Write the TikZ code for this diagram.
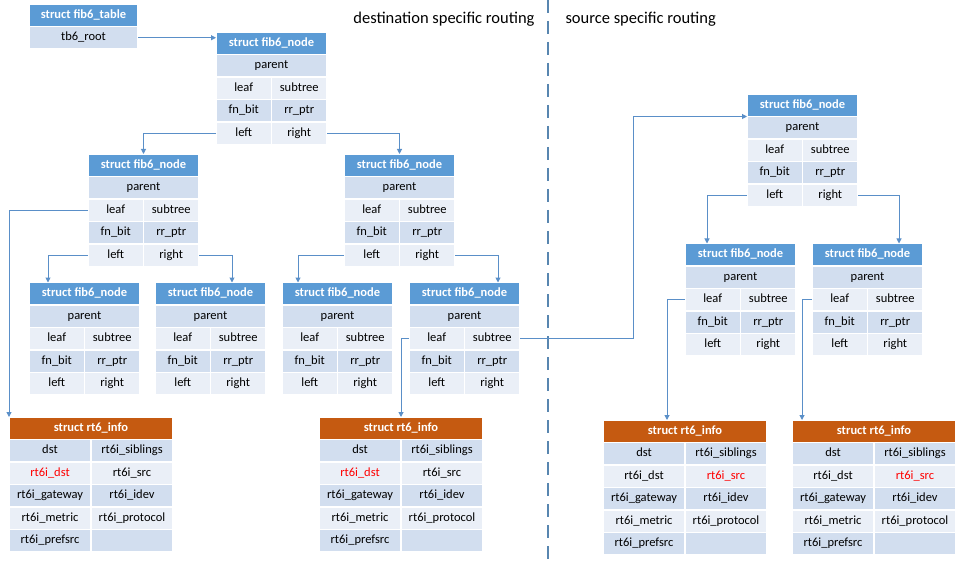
\documentclass[tikz,border=0pt]{standalone}
\usepackage{fontspec}
\setmainfont{Carlito}
\usepackage{tikz}
\usetikzlibrary{arrows.meta,positioning,calc}
\usepackage{xcolor}
\definecolor{fbBlue}{HTML}{5B9BD5}
\definecolor{fbOrange}{HTML}{C55A11}
\definecolor{fbDark}{HTML}{D2DEEF}
\definecolor{fbLight}{HTML}{EAEFF7}
\definecolor{fbLine}{HTML}{5A8FC8}
\definecolor{fbDash}{HTML}{5886B0}
\newcommand{\fbfont}{\fontsize{12.5}{14}\selectfont}
\newcommand{\fibnode}[3]{%
  \begin{scope}[shift={(#2,#3)}]
    \node[hdr, minimum width=111pt] (#1-hd) at (0,0) {struct fib6\_node};
    \node[dk, minimum width=111pt] (#1-parent) at (0,22.5) {parent};
    \node[lt] (#1-leaf) at (0,45) {leaf};
    \node[lt] (#1-subtree) at (55.5,45) {subtree};
    \node[dk] (#1-fnbit) at (0,67.5) {fn\_bit};
    \node[dk] (#1-rrptr) at (55.5,67.5) {rr\_ptr};
    \node[lt] (#1-left) at (0,90) {left};
    \node[lt] (#1-right) at (55.5,90) {right};
  \end{scope}}
\newcommand{\rtinfo}[5]{%
  \begin{scope}[shift={(#2,#3)}]
    \node[hdr, fill=fbOrange, minimum width=164pt] (#1-hd) at (0,0) {struct rt6\_info};
    \node[dk, wide] (#1-dst) at (0,22.5) {dst};
    \node[dk, wide] (#1-sib) at (82,22.5) {rt6i\_siblings};
    \node[lt, wide, text=#4] (#1-rdst) at (0,45) {rt6i\_dst};
    \node[lt, wide, text=#5] (#1-rsrc) at (82,45) {rt6i\_src};
    \node[dk, wide] (#1-gw) at (0,67.5) {rt6i\_gateway};
    \node[dk, wide] (#1-idev) at (82,67.5) {rt6i\_idev};
    \node[lt, wide] (#1-metric) at (0,90) {rt6i\_metric};
    \node[lt, wide] (#1-proto) at (82,90) {rt6i\_protocol};
    \node[dk, wide] (#1-pref) at (0,112.5) {rt6i\_prefsrc};
    \node[dk, wide] (#1-empty) at (82,112.5) {};
  \end{scope}}

\begin{document}
\begin{tikzpicture}[x=1pt, y=-1pt,
  cell/.style={anchor=north west, draw=white, line width=1.5pt, inner sep=0pt, outer sep=0pt, minimum height=22.5pt, minimum width=55.5pt, text height=9pt, text depth=3pt, font=\fbfont},
  wide/.style={minimum width=82pt},
  dk/.style={cell, fill=fbDark},
  lt/.style={cell, fill=fbLight},
  hdr/.style={cell, fill=fbBlue, text=white, font=\fbfont\bfseries},
  ptr/.style={-{Triangle[length=5pt, width=5pt]}, line width=1pt, fbLine},
  ttl/.style={font=\fontsize{16.5}{18}\selectfont}]
\useasboundingbox (0,0) rectangle (968,561);

% ── routing table and tree for destination specific routing ──
\node[hdr, minimum width=109pt] (t-hd) at (29,4) {struct fib6\_table};
\node[dk, minimum width=109pt] (t-root) at (29,26.5) {tb6\_root};
\fibnode{a}{216}{32}
\fibnode{b}{88}{154}
\fibnode{c}{344}{154}
\fibnode{d}{29}{282.5}
\fibnode{e}{155}{282.5}
\fibnode{f}{282}{282.5}
\fibnode{g}{409}{282.5}
\rtinfo{k}{9}{417}{red}{black}
\rtinfo{l}{319}{417}{red}{black}

% ── subtree for source specific routing ──
\fibnode{h}{747}{94}
\fibnode{i}{685}{243.5}
\fibnode{j}{812}{243.5}
\rtinfo{m}{603}{420}{black}{red}
\rtinfo{n}{792}{420}{black}{red}

\draw[fbDash, line width=1.3pt, dash pattern=on 13pt off 8pt] (548,0) -- (548,561);
\node[ttl, anchor=east] (dst-lbl) at (538,19) {destination specific routing};
\node[ttl, anchor=west] (src-lbl) at (562,19) {source specific routing};

% pointers
\draw[ptr] (t-root.east) -- (t-root.east -| a-hd.west);
\draw[ptr] (a-left.west) -| (b-hd.north);
\draw[ptr] (a-right.east) -| (c-hd.north);
\draw[ptr] (b-leaf.west) -| (k-hd.north west);
\draw[ptr] (b-left.west) -| ([xshift=19pt]d-hd.north west);
\draw[ptr] (b-right.east) -| ([xshift=77pt]e-hd.north west);
\draw[ptr] (c-left.west) -| ([xshift=16pt]f-hd.north west);
\draw[ptr] (c-right.east) -| ([xshift=89pt]g-hd.north west);
\draw[ptr] (g-leaf.west) -| (l-hd.north);
\draw[ptr] (g-subtree.east) -- ++(113,0) |- (h-hd.south west);
\draw[ptr] (h-left.west) -| ([xshift=22pt]i-hd.north west);
\draw[ptr] (h-right.east) -| ([xshift=87pt]j-hd.north west);
\draw[ptr] (i-leaf.west) -| ([xshift=64pt]m-hd.north west);
\draw[ptr] (j-leaf.west) -| ([xshift=10pt]n-hd.north west);
\end{tikzpicture}
\end{document}
